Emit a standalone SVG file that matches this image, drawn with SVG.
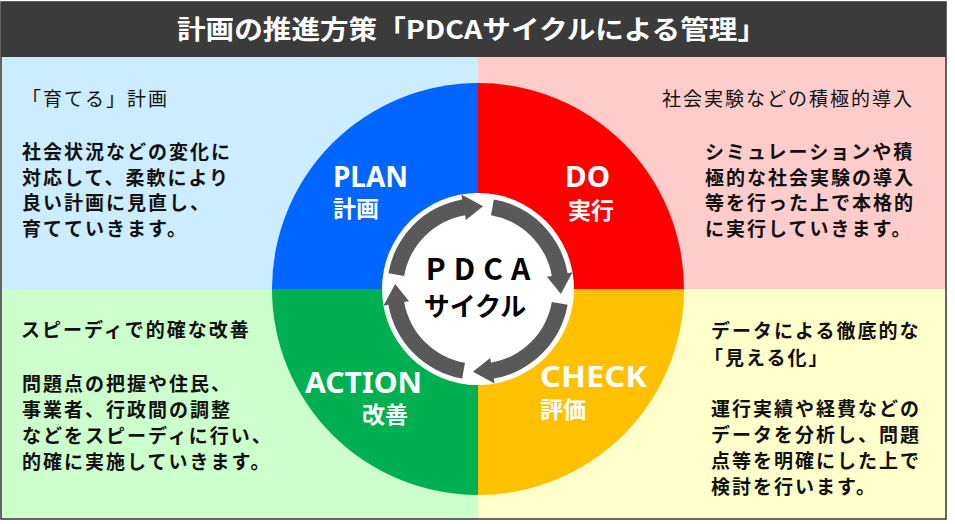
<svg xmlns="http://www.w3.org/2000/svg" width="955" height="524" viewBox="0 0 955 524">
<style>
.jp{font-family:"Noto Sans CJK JP","Noto Sans",sans-serif;}
.h{font-size:19px;letter-spacing:2px;fill:#111;font-weight:normal;}
.hb{font-size:19px;letter-spacing:2px;fill:#111;font-weight:bold;}
.b{font-size:19px;letter-spacing:2px;fill:#111;font-weight:bold;}
.lab{font-family:"Noto Sans","Noto Sans CJK JP",sans-serif;font-size:29px;font-weight:bold;fill:#fff;}
.sub{font-family:"Noto Sans CJK JP",sans-serif;font-size:23px;font-weight:bold;}
.arr{fill:#595959;}
</style>
<rect x="0" y="0" width="955" height="524" fill="#fff"/>
<g id="background">
<rect x="1" y="57" width="477" height="232" fill="#CCECFF"/>
<rect x="478" y="57" width="468" height="232" fill="#FFCCCC"/>
<rect x="1" y="289" width="477" height="230" fill="#CCFFCC"/>
<rect x="478" y="289" width="468" height="230" fill="#FFFFCC"/>
<rect x="1" y="2" width="945" height="517" fill="none" stroke="#333" stroke-width="1.5"/>
</g>
<g id="title">
<rect x="1" y="2" width="945" height="55" fill="#3B3B3B"/>
<text class="jp" x="177" y="39" font-size="26" font-weight="bold" fill="#fff" textLength="589" lengthAdjust="spacingAndGlyphs">計画の推進方策「PDCAサイクルによる管理」</text>
</g>
<g id="wheel">
<path d="M478,289 L272,289 A206,206 0 0 1 478,83 Z" fill="#0066FF"/>
<path d="M478,289 L478,83 A206,206 0 0 1 684,289 Z" fill="#FF0000"/>
<path d="M478,289 L684,289 A206,206 0 0 1 478,495 Z" fill="#FFC000"/>
<path d="M478,289 L478,495 A206,206 0 0 1 272,289 Z" fill="#00B050"/>
</g>
<g id="plan">
<text class="lab"><tspan x="333" y="187" textLength="75" lengthAdjust="spacingAndGlyphs">PLAN</tspan><tspan class="sub" x="333" y="217">計画</tspan></text>
</g>
<g id="do">
<text class="lab"><tspan x="565" y="187" textLength="45" lengthAdjust="spacingAndGlyphs">DO</tspan><tspan class="sub" x="568" y="219" font-size="24">実行</tspan></text>
</g>
<g id="check">
<text class="lab"><tspan x="540" y="387" textLength="107" lengthAdjust="spacingAndGlyphs">CHECK</tspan><tspan class="sub" x="540" y="418">評価</tspan></text>
</g>
<g id="action">
<text class="lab"><tspan x="305" y="393" textLength="117" lengthAdjust="spacingAndGlyphs">ACTION</tspan><tspan class="sub" x="362" y="423">改善</tspan></text>
</g>
<g id="center">
<circle cx="478" cy="289" r="96" fill="#fff"/>
<text class="jp" x="482" y="280" text-anchor="middle" font-size="30" font-weight="bold" letter-spacing="8" fill="#000">PDCA</text>
<text class="jp" x="475" y="316" text-anchor="middle" font-size="26" font-weight="bold" fill="#000">サイクル</text>
</g>
<g id="connectors">
<path class="arr" d="M388.38,273.20 A91,91 0 0 1 462.20,199.38 L461.33,194.46 L483.07,206.16 L465.84,220.06 L464.98,215.14 A75,75 0 0 0 404.14,275.98 Z"/>
<path class="arr" d="M493.80,199.38 A91,91 0 0 1 567.62,273.20 L572.54,272.33 L560.84,294.07 L546.94,276.84 L551.86,275.98 A75,75 0 0 0 491.02,215.14 Z"/>
<path class="arr" d="M567.62,304.80 A91,91 0 0 1 493.80,378.62 L494.67,383.54 L472.93,371.84 L490.16,357.94 L491.02,362.86 A75,75 0 0 0 551.86,302.02 Z"/>
<path class="arr" d="M462.20,378.62 A91,91 0 0 1 388.38,304.80 L383.46,305.67 L395.16,283.93 L409.06,301.16 L404.14,302.02 A75,75 0 0 0 464.98,362.86 Z"/>
</g>
<g id="text-plan">
<text class="jp h" x="22" y="106">「育てる」計画</text>
<text class="jp b" x="22" y="159">社会状況などの変化に</text>
<text class="jp b" x="22" y="184.5">対応して、柔軟により</text>
<text class="jp b" x="22" y="210">良い計画に見直し、</text>
<text class="jp b" x="22" y="236">育てていきます。</text>
</g>
<g id="text-do">
<text class="jp h" x="662" y="106">社会実験などの積極的導入</text>
<text class="jp b" x="705" y="159">シミュレーションや積</text>
<text class="jp b" x="705" y="184.5">極的な社会実験の導入</text>
<text class="jp b" x="705" y="210">等を行った上で本格的</text>
<text class="jp b" x="705" y="236">に実行していきます。</text>
</g>
<g id="text-action">
<text class="jp hb" x="21" y="337">スピーディで的確な改善</text>
<text class="jp b" x="22" y="391">問題点の把握や住民、</text>
<text class="jp b" x="22" y="417">事業者、行政間の調整</text>
<text class="jp b" x="22" y="443">などをスピーディに行い、</text>
<text class="jp b" x="22" y="469">的確に実施していきます。</text>
</g>
<g id="text-check">
<text class="jp hb" x="711" y="338">データによる徹底的な</text>
<text class="jp hb" x="704" y="365">「見える化」</text>
<text class="jp b" x="711" y="416">運行実績や経費などの</text>
<text class="jp b" x="711" y="442">データを分析し、問題</text>
<text class="jp b" x="711" y="468">点等を明確にした上で</text>
<text class="jp b" x="711" y="494">検討を行います。</text>
</g>
</svg>
